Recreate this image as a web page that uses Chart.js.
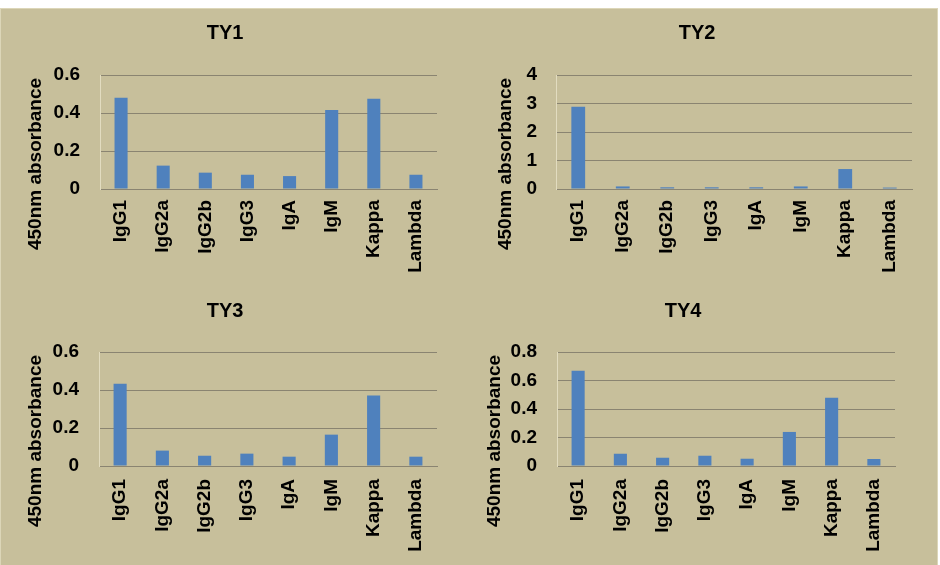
<!DOCTYPE html>
<html><head><meta charset="utf-8">
<script src="https://cdn.jsdelivr.net/npm/chart.js@4"></script>
<style>
html,body{margin:0;padding:0;background:#fff;width:940px;height:565px;overflow:hidden;}
#bg{position:absolute;left:0;top:8px;width:936px;height:556px;background:#C7BF9B;border:1px solid #dcd6b8;}
canvas{position:absolute;}
</style></head><body>
<div id="bg"></div>
<canvas id="c1" width="470" height="280" style="left:0;top:0"></canvas>
<canvas id="c2" width="470" height="280" style="left:470px;top:0"></canvas>
<canvas id="c3" width="470" height="285" style="left:0;top:280px"></canvas>
<canvas id="c4" width="470" height="285" style="left:470px;top:280px"></canvas>
<script>
const categories = ['IgG1','IgG2a','IgG2b','IgG3','IgA','IgM','Kappa','Lambda'];
const ty1Values = [0.48, 0.123, 0.086, 0.075, 0.068, 0.416, 0.475, 0.075];
const ty2Values = [2.89, 0.09, 0.06, 0.06, 0.06, 0.09, 0.70, 0.05];
const ty3Values = [0.433, 0.081, 0.054, 0.065, 0.049, 0.165, 0.371, 0.049];
const ty4Values = [0.669, 0.086, 0.058, 0.072, 0.051, 0.239, 0.479, 0.049];
const ty1Ticks = [0, 0.2, 0.4, 0.6];
const ty2Ticks = [0, 1, 2, 3, 4];
const ty3Ticks = [0, 0.2, 0.4, 0.6];
const ty4Ticks = [0, 0.2, 0.4, 0.6, 0.8];
const titles = ['TY1','TY2','TY3','TY4'];
const yTitle = '450nm absorbance';

const FONT = '"Liberation Sans", Arial, sans-serif';
const yTitlePlugin = {
  id: 'yTitleText',
  afterDraw(chart, args, opts) {
    const ctx = chart.ctx;
    ctx.save();
    ctx.font = 'bold 19px ' + FONT;
    ctx.fillStyle = '#000';
    ctx.textAlign = 'center';
    ctx.textBaseline = 'middle';
    ctx.translate(opts.x, chart.chartArea.bottom - 25);
    ctx.rotate(-Math.PI / 2);
    ctx.fillText(opts.text, 0, 0);
    ctx.restore();
  }
};
function makeChart(id, title, values, ticks, lay) {
  new Chart(document.getElementById(id), {
    type: 'bar',
    plugins: [yTitlePlugin],
    data: { labels: categories, datasets: [{ data: values, backgroundColor: '#4F81BD', borderWidth: 0,
      categoryPercentage: 1, barPercentage: 0.31 }] },
    options: {
      responsive: false, animation: false,
      layout: { padding: { left: lay.L, right: lay.R, top: 0, bottom: 0 } },
      plugins: {
        legend: { display: false }, tooltip: { enabled: false },
        yTitleText: { text: yTitle, x: lay.ytX },
        title: { display: true, text: title, color: '#000',
          font: { family: FONT, size: 20, weight: 'bold' },
          padding: { top: lay.tTop, bottom: lay.tBot } }
      },
      scales: {
        x: {
          grid: { display: false, drawTicks: false },
          border: { display: true, color: '#8a8471', width: 1 },
          ticks: { color: '#000', font: { family: FONT, size: 19, weight: 'bold' },
            minRotation: 90, maxRotation: 90, padding: lay.xPad, autoSkip: false },
          afterFit: s => { s.height = lay.xH; }
        },
        y: {
          min: ticks[0], max: ticks[ticks.length - 1],
          afterBuildTicks: s => { s.ticks = ticks.map(v => ({ value: v })); },
          grid: { color: '#8a8471', lineWidth: 1, drawTicks: false },
          border: { display: true, color: '#e2dcc0', width: 1 },
          ticks: { color: '#000', font: { family: FONT, size: 19, weight: 'bold' },
            padding: lay.yPad, callback: v => String(v) },
          afterFit: s => { s.width = lay.yW; }
        }
      }
    }
  });
}
makeChart('c1', titles[0], ty1Values, ty1Ticks, { L: 13, R: 33, tTop: 21, tBot: 30, xH: 91, xPad: 11, yW: 87, yPad: 20, ytX: 36 });
makeChart('c2', titles[1], ty2Values, ty2Ticks, { L: 12, R: 28, tTop: 21, tBot: 30, xH: 91, xPad: 11, yW: 74, yPad: 19, ytX: 36 });
makeChart('c3', titles[2], ty3Values, ty3Ticks, { L: 13, R: 33, tTop: 19.5, tBot: 28.5, xH: 99, xPad: 13, yW: 86, yPad: 20, ytX: 36 });
makeChart('c4', titles[3], ty4Values, ty4Ticks, { L: 1, R: 45, tTop: 19.5, tBot: 28.5, xH: 99, xPad: 13, yW: 86, yPad: 20, ytX: 25 });
</script>
</body></html>
